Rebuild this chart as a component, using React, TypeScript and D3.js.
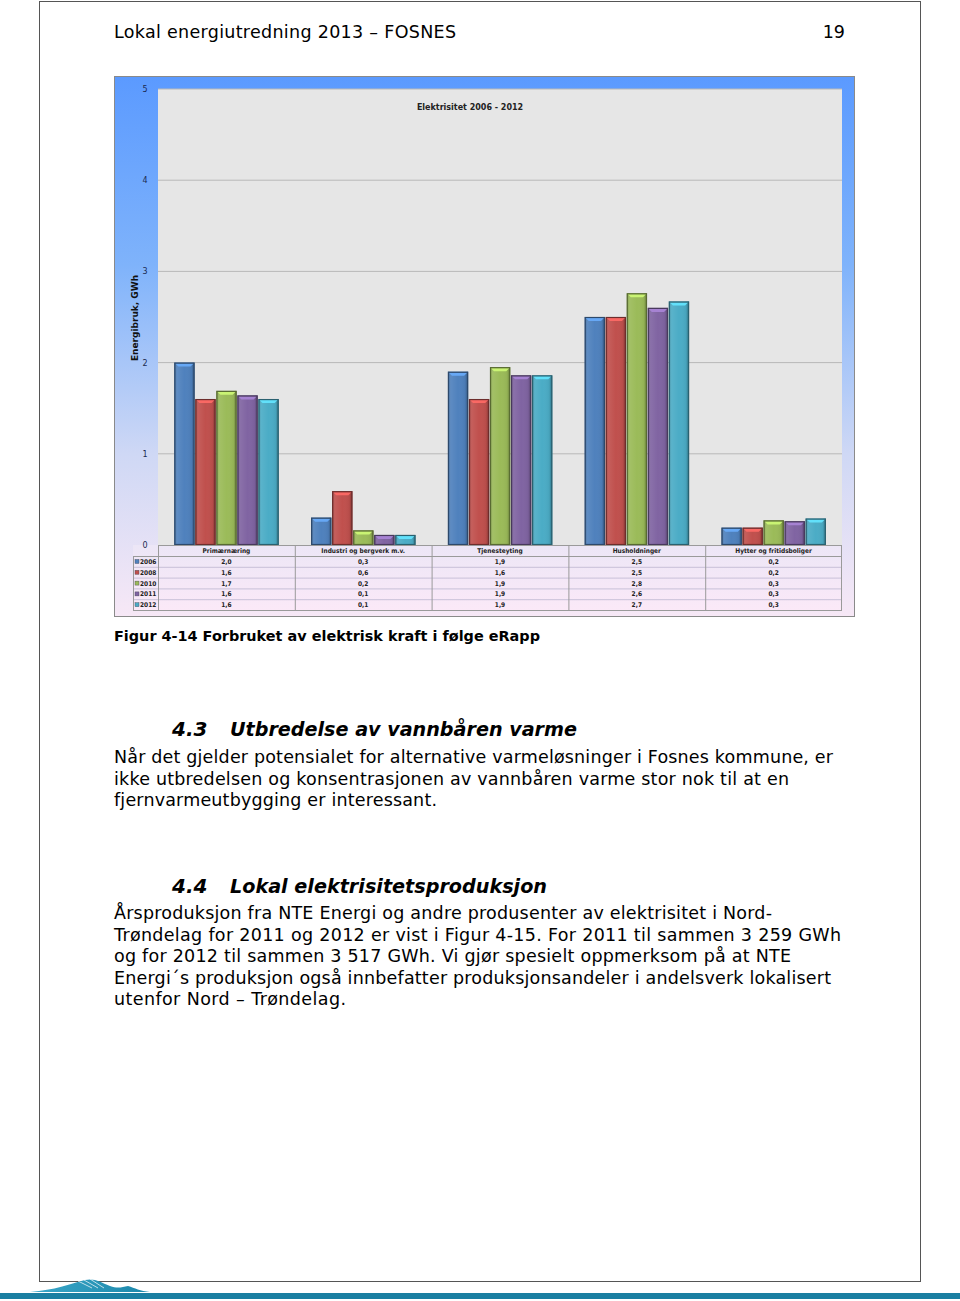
import React from "react";
import * as d3 from "d3";

const categories = ["Primærnæring", "Industri og bergverk m.v.", "Tjenesteyting", "Husholdninger", "Hytter og fritidsboliger"];
const years = ["2006", "2008", "2010", "2011", "2012"];
const v2006 = [2.0, 0.3, 1.9, 2.5, 0.19];
const v2008 = [1.6, 0.59, 1.6, 2.5, 0.19];
const v2010 = [1.69, 0.16, 1.95, 2.76, 0.27];
const v2011 = [1.64, 0.11, 1.86, 2.6, 0.26];
const v2012 = [1.6, 0.11, 1.86, 2.67, 0.29];
const series = [v2006, v2008, v2010, v2011, v2012];
const colors = ["#4f81bd", "#c0504d", "#9bbb59", "#8064a2", "#4bacc6"];
const yTicks = [0, 1, 2, 3, 4, 5];

const para1 = [
  "Når det gjelder potensialet for alternative varmeløsninger i Fosnes kommune, er",
  "ikke utbredelsen og konsentrasjonen av vannbåren varme stor nok til at en",
  "fjernvarmeutbygging er interessant.",
];
const para1Len = [719, 675, 323];
const para2 = [
  "Årsproduksjon fra NTE Energi og andre produsenter av elektrisitet i Nord-",
  "Trøndelag for 2011 og 2012 er vist i Figur 4-15. For 2011 til sammen 3 259 GWh",
  "og for 2012 til sammen 3 517 GWh. Vi gjør spesielt oppmerksom på at NTE",
  "Energi´s produksjon også innbefatter produksjonsandeler i andelsverk lokalisert",
  "utenfor Nord – Trøndelag.",
];
const para2Len = [658, 727, 677, 717, 232];

export default function App() {
  const plotL = 158, plotR = 842, plotT = 89, plotB = 545;
  const y = d3.scaleLinear().domain([0, 5]).range([plotB, plotT]);
  const x0 = d3.scaleBand<string>().domain(categories).range([plotL, plotR]).padding(0);
  const bw = x0.bandwidth();
  const x1 = d3.scaleBand<string>().domain(years).range([15.5, 121.5]).padding(0.04);
  const fmt = (v: number) => d3.format(".1f")(v).replace(".", ",");
  const rowH = 10.8;
  const headT = plotB, headB = plotB + 11;
  const font = "'DejaVu Sans', Verdana, sans-serif";
  const cond = "'DejaVu Sans Condensed', 'Liberation Sans Narrow', 'DejaVu Sans', sans-serif";

  return (
    <svg width={960} height={1301} style={{ position: "absolute", left: 0, top: 0, background: "#fff" }}>
      <defs>
        <linearGradient id="frameG" x1="0" y1="0" x2="0" y2="1">
          <stop offset="0" stopColor="#5b9aff" />
          <stop offset="0.35" stopColor="#7fb3fb" />
          <stop offset="0.7" stopColor="#cfd8f5" />
          <stop offset="1" stopColor="#f7e8f6" />
        </linearGradient>
        <linearGradient id="tableG" x1="0" y1="0" x2="0" y2="1">
          <stop offset="0" stopColor="#ece6f6" />
          <stop offset="1" stopColor="#fbe9f8" />
        </linearGradient>
        <linearGradient id="barShade" x1="0" y1="0" x2="1" y2="0">
          <stop offset="0" stopColor="#000" stopOpacity="0.25" />
          <stop offset="0.15" stopColor="#fff" stopOpacity="0.08" />
          <stop offset="0.5" stopColor="#fff" stopOpacity="0.0" />
          <stop offset="0.85" stopColor="#000" stopOpacity="0.05" />
          <stop offset="1" stopColor="#000" stopOpacity="0.35" />
        </linearGradient>
        <linearGradient id="waveG" x1="0" y1="0" x2="1" y2="0">
          <stop offset="0" stopColor="#3aa7c9" />
          <stop offset="1" stopColor="#1c87aa" />
        </linearGradient>
      </defs>

      {/* page border */}
      <rect x={39.5} y={1.5} width={881} height={1280} fill="none" stroke="#555" strokeWidth={1} />

      {/* header */}
      <text x={114} y={38} fontFamily={font} fontSize={17.5} fill="#000" textLength={342} lengthAdjust="spacing">Lokal energiutredning 2013 – FOSNES</text>
      <text x={845} y={38} fontFamily={font} fontSize={17.5} fill="#000" textAnchor="end">19</text>

      {/* chart frame */}
      <rect x={114} y={76} width={741} height={541} fill="url(#frameG)" />
      <rect x={114.5} y={76.5} width={740} height={540} fill="none" stroke="#8a8a8a" strokeWidth={1} />
      <rect x={plotL} y={plotT} width={plotR - plotL} height={plotB - plotT} fill="#e6e6e6" />
      <rect x={133} y={plotB} width={plotR - 133} height={611 - plotB} fill="url(#tableG)" />

      {/* gridlines */}
      {yTicks.slice(1).map((t) => (
        <line key={t} x1={plotL} x2={plotR} y1={y(t)} y2={y(t)} stroke="#b8b8b8" strokeWidth={1} />
      ))}
      {yTicks.map((t) => (
        <text key={t} x={145} y={y(t) + 3} fontFamily={font} fontSize={8} fill="#1a2a50" textAnchor="middle">{t}</text>
      ))}
      <text transform={`translate(138,318) rotate(-90)`} fontFamily={font} fontSize={9} fontWeight="bold" fill="#111" textAnchor="middle">Energibruk, GWh</text>
      <text x={470} y={110} fontFamily={font} fontSize={8} fontWeight="bold" fill="#222" textAnchor="middle">Elektrisitet 2006 - 2012</text>

      {/* bars */}
      {categories.map((c, ci) => (
        <g key={c} transform={`translate(${x0(c)},0)`}>
          {years.map((yr, si) => {
            const v = series[si][ci];
            const bx = x1(yr)!;
            const w = x1.bandwidth();
            const top = y(v);
            const h = plotB - top;
            const col = colors[si];
            const light = d3.color(col)!.brighter(0.8).formatHex();
            const dark = d3.color(col)!.darker(1.6).formatHex();
            return (
              <g key={yr}>
                <rect x={bx} y={top} width={w} height={h} fill={col} />
                <rect x={bx} y={top} width={w} height={h} fill="url(#barShade)" />
                {h > 5 && (
                  <path d={`M${bx + 1},${top + 1} L${bx + w - 1},${top + 1} L${bx + w - 4},${top + 4} L${bx + 4},${top + 4} Z`} fill={light} opacity={0.9} />
                )}
                <rect x={bx + 0.5} y={top + 0.5} width={w - 1} height={Math.max(h - 1, 0)} fill="none" stroke={dark} strokeWidth={1.2} />
              </g>
            );
          })}
        </g>
      ))}

      {/* data table */}
      <line x1={plotL} x2={plotR} y1={headT + 0.5} y2={headT + 0.5} stroke="#9a9a9a" />
      <line x1={133} x2={plotR} y1={headB + 0.5} y2={headB + 0.5} stroke="#9a9a9a" />
      {years.map((yr, si) => (
        <line key={yr} x1={133} x2={plotR} y1={headB + (si + 1) * rowH + 0.5} y2={headB + (si + 1) * rowH + 0.5} stroke={si === 4 ? "#9a9a9a" : "#c8c0d8"} />
      ))}
      <line x1={133.5} x2={133.5} y1={headB} y2={headB + 5 * rowH} stroke="#9a9a9a" />
      {categories.map((c) => (
        <line key={c} x1={x0(c)! + 0.5} x2={x0(c)! + 0.5} y1={headT} y2={headB + 5 * rowH} stroke="#9a9a9a" />
      ))}
      <line x1={plotR - 0.5} x2={plotR - 0.5} y1={headT} y2={headB + 5 * rowH} stroke="#9a9a9a" />
      {categories.map((c) => (
        <text key={c} x={x0(c)! + bw / 2} y={headT + 8} fontFamily={cond} fontSize={6.5} fontWeight="bold" fill="#222" textAnchor="middle">{c}</text>
      ))}
      {years.map((yr, si) => (
        <g key={yr}>
          <rect x={135} y={headB + si * rowH + 3.5} width={4} height={4} fill={colors[si]} stroke="#445" strokeWidth={0.4} />
          <text x={140} y={headB + si * rowH + 8} fontFamily={cond} fontSize={6.5} fontWeight="bold" fill="#222">{yr}</text>
          {categories.map((c, ci) => (
            <text key={c} x={x0(c)! + bw / 2} y={headB + si * rowH + 8} fontFamily={cond} fontSize={6.5} fontWeight="bold" fill="#222" textAnchor="middle">{fmt(series[si][ci])}</text>
          ))}
        </g>
      ))}

      {/* caption */}
      <text x={114} y={641} fontFamily={font} fontSize={14.5} fontWeight="bold" fill="#000" textLength={426} lengthAdjust="spacingAndGlyphs">Figur 4-14 Forbruket av elektrisk kraft i følge eRapp</text>

      {/* section 4.3 */}
      <text x={172} y={736} fontFamily={font} fontSize={20} fontWeight="bold" fontStyle="italic" fill="#000">4.3</text>
      <text x={230} y={736} fontFamily={font} fontSize={20} fontWeight="bold" fontStyle="italic" fill="#000" textLength={347} lengthAdjust="spacingAndGlyphs">Utbredelse av vannbåren varme</text>
      {para1.map((l, i) => (
        <text key={i} x={114} y={763 + i * 21.5} fontFamily={font} fontSize={17.5} fill="#000" textLength={para1Len[i]} lengthAdjust="spacing">{l}</text>
      ))}

      {/* section 4.4 */}
      <text x={172} y={893} fontFamily={font} fontSize={20} fontWeight="bold" fontStyle="italic" fill="#000">4.4</text>
      <text x={230} y={893} fontFamily={font} fontSize={20} fontWeight="bold" fontStyle="italic" fill="#000" textLength={317} lengthAdjust="spacingAndGlyphs">Lokal elektrisitetsproduksjon</text>
      {para2.map((l, i) => (
        <text key={i} x={114} y={919 + i * 21.6} fontFamily={font} fontSize={17.5} fill="#000" textLength={para2Len[i]} lengthAdjust="spacing">{l}</text>
      ))}

      {/* footer */}
      <path d="M30,1292 C55,1290 70,1284 85,1280 C95,1278 100,1282 110,1286 C118,1289 122,1287 128,1286 C135,1288 140,1291 150,1292 Z" fill="url(#waveG)" />
      <path d="M78,1281 L92,1288 M84,1280 L98,1288 M90,1279 L104,1288" stroke="#fff" strokeWidth={1} opacity={0.7} />
      <rect x={0} y={1293} width={960} height={6} fill="#1a7fa2" />
    </svg>
  );
}
